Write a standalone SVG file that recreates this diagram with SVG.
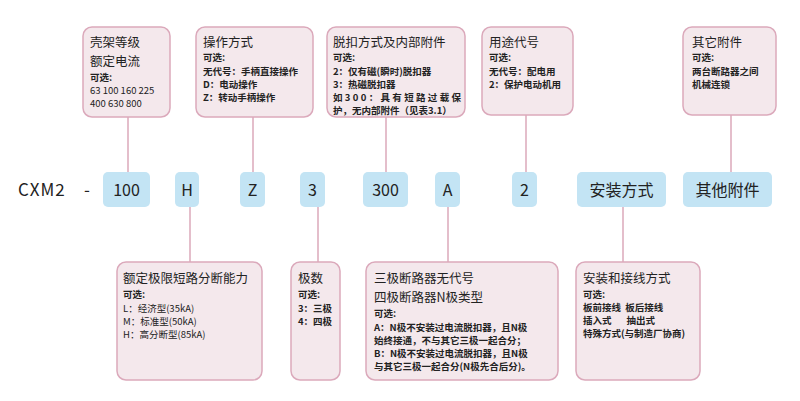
<svg xmlns="http://www.w3.org/2000/svg" width="800" height="401" viewBox="0 0 800 401">
<style>
.b{fill:#f4e8ec;stroke:#dba9bb;stroke-width:1.5}
.c{fill:#c3e4f4}
.l{stroke:#dba9bb;stroke-width:1.5;fill:none}
text{font-family:"Noto Sans CJK SC","Noto Sans",sans-serif;fill:#222}
.h{font-size:12.5px}
.s{font-size:9.5px;font-weight:bold}
.n{font-weight:normal}
.k{font-size:16px;text-anchor:middle}
</style>
<rect width="800" height="401" fill="#fff"/>
<g id="connectors">
<path class="l" d="M128 117V172M253 117V172M386 117V172M526 115V172M731 115V172M190 207V262M318 207V262M448 207V262M623 207V262"/>
</g>
<g id="n1"><rect class="b" x="83" y="27" width="87" height="90" rx="9"/>
<text class="h" x="90" y="47">壳架等级</text><text class="h" x="90" y="66">额定电流</text>
<text class="s" x="90" y="81">可选:</text><text class="s n" x="90" y="94">63 100 160 225</text><text class="s n" x="90" y="107">400 630 800</text></g>
<g id="n2"><rect class="b" x="196" y="27" width="117" height="90" rx="9"/>
<text class="h" x="203" y="47">操作方式</text><text class="s" x="203" y="61">可选:</text>
<text class="s" x="203" y="75">无代号：手柄直接操作</text><text class="s" x="203" y="88">D：电动操作</text><text class="s" x="203" y="101">Z：转动手柄操作</text></g>
<g id="n3"><rect class="b" x="327" y="27" width="138" height="90" rx="9"/>
<text class="h" x="333" y="47">脱扣方式及内部附件</text><text class="s" x="333" y="61">可选:</text>
<text class="s" x="333" y="75">2：仅有磁(瞬时)脱扣器</text><text class="s" x="333" y="88">3：热磁脱扣器</text>
<text class="s" x="333" y="101" textLength="128">如300：具有短路过载保</text><text class="s" x="333" y="114">护，无内部附件（见表3.1）</text></g>
<g id="n4"><rect class="b" x="482" y="27" width="91" height="88" rx="9"/>
<text class="h" x="489" y="47">用途代号</text><text class="s" x="489" y="61">可选:</text>
<text class="s" x="489" y="75">无代号：配电用</text><text class="s" x="489" y="88">2：保护电动机用</text></g>
<g id="n5"><rect class="b" x="683" y="27" width="93" height="88" rx="9"/>
<text class="h" x="692" y="47">其它附件</text><text class="s" x="692" y="61">可选:</text>
<text class="s" x="692" y="75">两台断路器之间</text><text class="s" x="692" y="88">机械连锁</text></g>
<g id="code">
<text x="18" y="196" font-size="17" letter-spacing="1">CXM2</text>
<text x="84" y="196" font-size="17">-</text>
<rect class="c" x="103" y="172" width="47" height="35" rx="5"/><text class="k" x="126.5" y="196">100</text>
<rect class="c" x="175" y="172" width="24" height="35" rx="5"/><text class="k" x="187" y="196">H</text>
<rect class="c" x="240" y="172" width="25" height="35" rx="5"/><text class="k" x="252.5" y="196">Z</text>
<rect class="c" x="300" y="172" width="25" height="35" rx="5"/><text class="k" x="312.5" y="196">3</text>
<rect class="c" x="363" y="172" width="45" height="35" rx="5"/><text class="k" x="385.5" y="196">300</text>
<rect class="c" x="435" y="172" width="25" height="35" rx="5"/><text class="k" x="447.5" y="196">A</text>
<rect class="c" x="512" y="172" width="25" height="35" rx="5"/><text class="k" x="524.5" y="196">2</text>
<rect class="c" x="577" y="172" width="89" height="35" rx="5"/><text class="k" x="621.5" y="196">安装方式</text>
<rect class="c" x="683" y="172" width="89" height="35" rx="5"/><text class="k" x="727.5" y="196">其他附件</text>
</g>
<g id="n6"><rect class="b" x="117" y="262" width="145" height="118" rx="9"/>
<text class="h" x="123" y="283">额定极限短路分断能力</text><text class="s" x="123" y="298">可选:</text>
<text class="s n" x="123" y="312">L：经济型(35kA)</text><text class="s n" x="123" y="325">M：标准型(50kA)</text><text class="s n" x="123" y="338">H：高分断型(85kA)</text></g>
<g id="n7"><rect class="b" x="291" y="262" width="49" height="118" rx="9"/>
<text class="h" x="298" y="283">极数</text><text class="s" x="298" y="298">可选:</text>
<text class="s" x="298" y="312">3：三极</text><text class="s" x="298" y="325">4：四极</text></g>
<g id="n8"><rect class="b" x="366" y="262" width="192" height="118" rx="9"/>
<text class="h" x="374" y="283">三极断路器无代号</text><text class="h" x="374" y="302">四极断路器N极类型</text>
<text class="s" x="374" y="317">可选:</text>
<text class="s" x="374" y="331">A：N极不安装过电流脱扣器，且N极</text><text class="s" x="374" y="344">始终接通，不与其它三极一起合分；</text>
<text class="s" x="374" y="357">B：N极不安装过电流脱扣器，且N极</text><text class="s" x="374" y="370">与其它三极一起合分(N极先合后分)。</text></g>
<g id="n9"><rect class="b" x="576" y="262" width="124" height="118" rx="9"/>
<text class="h" x="583" y="283">安装和接线方式</text><text class="s" x="583" y="298">可选:</text>
<text class="s" x="583" y="311" xml:space="preserve">板前接线  板后接线</text><text class="s" x="583" y="324" xml:space="preserve">插入式       抽出式</text><text class="s" x="583" y="337">特殊方式(与制造厂协商)</text></g>
</svg>
